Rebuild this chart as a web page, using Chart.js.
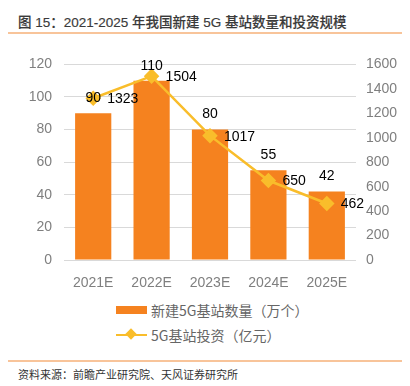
<!DOCTYPE html>
<html lang="zh">
<head>
<meta charset="UTF-8">
<title>2021-2025 年我国新建 5G 基站数量和投资规模</title>
<script src="https://cdn.jsdelivr.net/npm/chart.js@4"></script>
<style>
  body { margin: 0; background: #fff; width: 410px; height: 386px; position: relative; overflow: hidden;
         font-family: "Liberation Sans", "Noto Sans CJK SC", sans-serif; }
  #title { position: absolute; left: 18px; top: 11px; font-size: 13.5px; color: #3a3a3a;
           font-family: "Liberation Sans", "Noto Sans CJK SC", sans-serif; font-weight: 500;
           -webkit-text-stroke: 0.15px #3a3a3a; }
  .rule { position: absolute; left: 8px; width: 394px; height: 2px; background: #F8C49A; }
  #wrap { position: absolute; left: 0; top: 44px; width: 410px; height: 251px; }
  #legend { position: absolute; left: 116px; top: 297px; font-size: 14px; color: #666;
            font-family: "Noto Sans CJK SC", sans-serif; }
  .item { height: 25px; display: flex; align-items: center; position: relative; }
  .sw { width: 31px; height: 8px; margin-right: 4px; position: relative; }
  #source { position: absolute; left: 18px; top: 366px; font-size: 11px; color: #333;
            font-family: "Noto Sans CJK SC", sans-serif; }
</style>
</head>
<body>
<div id="title">图 15：2021-2025 年我国新建 5G 基站数量和投资规模</div>
<div class="rule" style="top:32px"></div>
<div id="wrap"><canvas id="c"></canvas></div>
<div id="legend"></div>
<div class="rule" style="top:360px"></div>
<div id="source">资料来源：前瞻产业研究院、天风证券研究所</div>

<script>
const years = ["2021E", "2022E", "2023E", "2024E", "2025E"];
const stations = [90, 110, 80, 55, 42];        // 万个
const invest = [1323, 1504, 1017, 650, 462];    // 亿元
const stationsName = "新建5G基站数量（万个）";
const investName = "5G基站投资（亿元）";
const barColor = "#F5821F";
const lineColor = "#F9BD2B";

// value labels: bar value above bar, line value right of the point
const labelPlugin = {
  id: "valueLabels",
  afterDatasetsDraw(chart) {
    const ctx = chart.ctx;
    ctx.save();
    ctx.font = "14px 'Liberation Sans', Arial, sans-serif";
    ctx.fillStyle = "#000";
    ctx.textBaseline = "middle";
    chart.getDatasetMeta(1).data.forEach((bar, i) => {
      ctx.textAlign = "center";
      ctx.fillText(stations[i], bar.x, bar.y - 15);
    });
    chart.getDatasetMeta(0).data.forEach((pt, i) => {
      ctx.textAlign = "left";
      ctx.fillText(invest[i], pt.x + 14, pt.y + 1);
    });
    ctx.restore();
  }
};

const tickFont = { family: "'Liberation Sans', Arial, sans-serif", size: 14 };

new Chart(document.getElementById("c"), {
  data: {
    labels: years,
    datasets: [
      {
        type: "line", label: investName, data: invest, yAxisID: "y2",
        borderColor: lineColor, backgroundColor: lineColor, borderWidth: 2.5,
        pointStyle: "rectRot", pointRadius: 6, pointHoverRadius: 6, order: 0
      },
      {
        type: "bar", label: stationsName, data: stations, yAxisID: "y",
        backgroundColor: barColor, barPercentage: 0.62, categoryPercentage: 1, order: 1
      }
    ]
  },
  options: {
    responsive: true, maintainAspectRatio: false, animation: false,
    layout: { padding: { top: 5, left: 0, right: 0, bottom: 0 } },
    plugins: { legend: { display: false }, tooltip: { enabled: false } },
    scales: {
      x: {
        grid: { display: false }, border: { display: false },
        ticks: { color: "#7f7f7f", font: tickFont, padding: 7 },
        afterFit(s) { s.height = 35; }
      },
      y: {
        position: "left", min: 0, max: 120,
        ticks: { stepSize: 20, color: "#7f7f7f", font: tickFont, padding: 12 },
        grid: { color: "#d9d9d9", drawTicks: false, lineWidth: 1 }, border: { display: false },
        afterFit(s) { s.width = 64; }
      },
      y2: {
        position: "right", min: 0, max: 1600,
        ticks: { stepSize: 200, color: "#7f7f7f", font: tickFont, padding: 10, callback: v => String(v) },
        grid: { display: false, drawTicks: false }, border: { display: false },
        afterFit(s) { s.width = 54; }
      }
    }
  },
  plugins: [labelPlugin]
});

// legend built from the dataset names
const legend = document.getElementById("legend");
legend.innerHTML =
  '<div class="item"><div class="sw" style="background:' + barColor + '"></div>' + stationsName + '</div>' +
  '<div class="item"><div class="sw" style="height:0">' +
  '<div style="position:absolute;left:0;top:-1px;width:31px;height:2.5px;background:' + lineColor + '"></div>' +
  '<div style="position:absolute;left:11px;top:-4.5px;width:8px;height:8px;background:' + lineColor + ';transform:rotate(45deg)"></div>' +
  '</div>' + investName + '</div>';
</script>
</body>
</html>
